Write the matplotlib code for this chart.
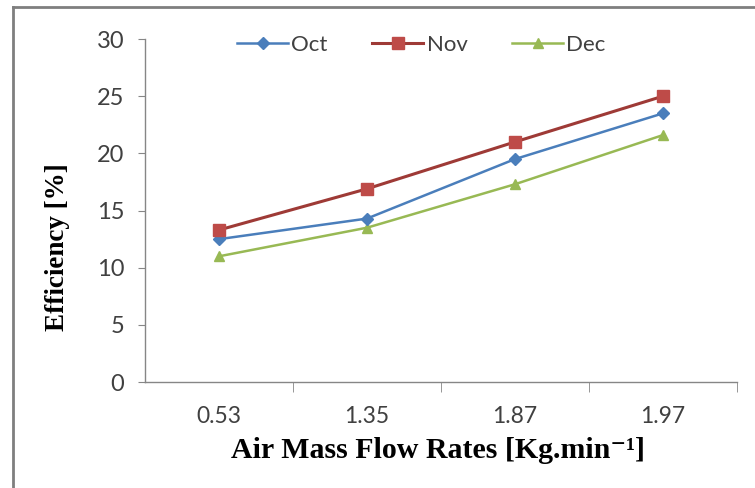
import matplotlib
matplotlib.use("Agg")
import matplotlib.pyplot as plt
from matplotlib.lines import Line2D

# air mass flow rates (category labels) and efficiency per month
flow_rates = ["0.53", "1.35", "1.87", "1.97"]
oct_eff = [12.5, 14.3, 19.5, 23.5]
nov_eff = [13.3, 16.9, 21.0, 25.0]
dec_eff = [11.0, 13.5, 17.3, 21.6]
months = ["Oct", "Nov", "Dec"]

fig = plt.figure(figsize=(7.55, 4.88), dpi=100)
ax = fig.add_axes([0.192, 0.217, 0.784, 0.703])

x = range(len(flow_rates))
ax.plot(x, oct_eff, color="#4A7EBB", lw=1.8, marker="D", ms=6,
        mfc="#4A7EBB", mec="#4A7EBB", label=months[0], zorder=3)
ax.plot(x, nov_eff, color="#9E3A36", lw=2.2, marker="s", ms=8,
        mfc="#BE4B48", mec="#BE4B48", label=months[1], zorder=4)
ax.plot(x, dec_eff, color="#98B954", lw=1.8, marker="^", ms=7,
        mfc="#98B954", mec="#98B954", label=months[2], zorder=2)

ax.set_xlim(-0.5, len(flow_rates) - 0.5)
ax.set_ylim(0, 30)
ax.set_yticks(range(0, 31, 5))
ax.set_xticks(list(x))
ax.set_xticklabels(flow_rates)
ax.set_xticks([i + 0.5 for i in x], minor=True)

for s in ["top", "right"]:
    ax.spines[s].set_visible(False)
for s in ["left", "bottom"]:
    ax.spines[s].set_color("#868686")
    ax.spines[s].set_linewidth(1.0)

tick_font = "Lato"
ax.tick_params(axis="y", direction="out", length=5, color="#868686",
               labelsize=17, labelcolor="#404040", pad=10)
ax.tick_params(axis="x", which="major", length=0, labelsize=16.5,
               labelcolor="#404040", pad=17)
ax.tick_params(axis="x", which="minor", direction="out", length=7,
               color="#868686")
for lab in ax.get_xticklabels() + ax.get_yticklabels():
    lab.set_fontfamily(tick_font)

serif = ["Liberation Serif", "DejaVu Serif"]
ax.set_xlabel("Air Mass Flow Rates [Kg.min\u207b\u00b9]", fontfamily=serif,
              fontweight="bold", fontsize=21.5)
ax.xaxis.set_label_coords(0.495, -0.16)
ax.set_ylabel("Efficiency [%]", fontfamily=serif, fontweight="bold",
              fontsize=19.5)
ax.yaxis.set_label_coords(-0.127, 0.392)

leg = ax.legend(loc="center", bbox_to_anchor=(0.467, 0.9825), ncol=3,
                frameon=False, prop={"family": tick_font, "size": 16},
                handlelength=2.3, columnspacing=2.0, handletextpad=0.15)
for t in leg.get_texts():
    t.set_color("#404040")

# chart frame (only top and left edges visible in the crop)
fig.add_artist(Line2D([0.017, 0.017], [0.0, 0.986], transform=fig.transFigure,
                      color="#7F7F7F", lw=2))
fig.add_artist(Line2D([0.017, 1.0], [0.986, 0.986], transform=fig.transFigure,
                      color="#7F7F7F", lw=2))

fig.savefig("out.png", dpi=100)
